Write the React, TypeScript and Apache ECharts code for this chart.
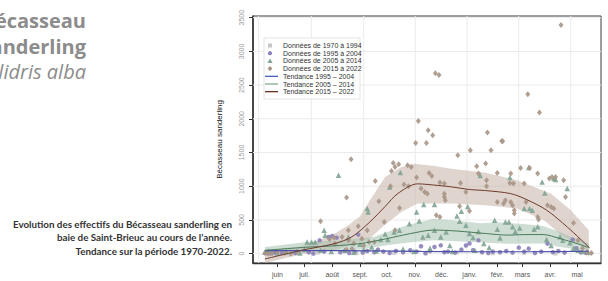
import React, { useEffect, useRef } from "react";
import * as echarts from "echarts";

const monthLabels = ["juin", "juil.", "août", "sept.", "oct.", "nov.", "déc.", "janv.", "févr.", "mars", "avr.", "mai"];
const monthDays = [0, 30, 61, 92, 122, 153, 183, 214, 245, 273, 304, 334];
const yTicks = [0, 500, 1000, 1500, 2000, 2500, 3000, 3500];
const xGrid = [-21, 37.7, 96.1, 153.6, 211.3, 268.9, 326.9];
const X_MIN = -27.3;
const X_MAX = 360.6;
const Y_MIN = -139;
const Y_MAX = 3525;

const data1970 = [[-13, 5], [-5, 10], [12, 0], [45, 15], [88, 5], [130, 10], [165, 0], [200, 20], [240, 5], [275, 10], [310, 0], [348, 5]];

const data1995 = [[-12, 10], [-8, 5], [-3, 15], [5, 8], [20, 10], [35, 20], [40, 0], [47, 197], [52, 30], [57, 246], [61, 261], [66, 237], [70, 20], [75, 40], [80, 10], [86, 30], [90, 282], [95, 15], [100, 40], [108, 20], [112, 60], [118, 30], [125, 10], [132, 40], [140, 20], [148, 50], [155, 30], [160, 110], [165, 10], [170, 40], [175, 98], [182, 123], [186, 20], [190, 30], [198, 15], [205, 60], [210, 120], [214, 150], [218, 50], [224, 197], [228, 20], [235, 10], [240, 30], [248, 20], [255, 40], [262, 15], [269, 89], [275, 30], [280, 74], [287, 10], [294, 30], [301, 148], [307, 20], [313, 40], [320, 15], [329, 208], [333, 80], [338, 20], [344, 10]];

const data2005 = [[-14, 20], [-10, 40], [0, 10], [10, 30], [25, 10], [30, 60], [33, 172], [38, 172], [42, 172], [48, 50], [52, 346], [53, 272], [60, 30], [68, 1162], [75, 50], [79, 246], [85, 20], [92, 138], [96, 60], [100, 668], [101, 617], [105, 100], [110, 40], [115, 210], [120, 290], [123, 208], [125, 988], [130, 321], [136, 346], [137, 1202], [140, 70], [147, 445], [152, 30], [155, 617], [158, 484], [162, 246], [163, 727], [168, 272], [170, 80], [175, 727], [175, 346], [182, 246], [188, 320], [192, 120], [195, 30], [200, 560], [203, 480], [205, 630], [210, 420], [212, 700], [214, 300], [218, 240], [220, 50], [224, 330], [226, 1160], [230, 150], [236, 90], [242, 494], [245, 360], [248, 230], [254, 469], [258, 469], [259, 1128], [262, 400], [265, 330], [270, 380], [275, 668], [280, 1276], [281, 668], [284, 643], [286, 360], [290, 400], [295, 1063], [298, 899], [300, 210], [305, 120], [308, 1113], [310, 1098], [315, 250], [318, 200], [323, 965], [326, 160], [330, 80], [335, 50], [340, 30], [346, 20]];

const data2015 = [[-14, 10], [-10, 0], [-6, 5], [0, 20], [8, 10], [15, 0], [22, 30], [48, 479], [58, 212], [63, 237], [64, 148], [72, 246], [77, 831], [77, 59], [79, 197], [79, 346], [82, 1400], [83, 74], [85, 150], [90, 405], [94, 222], [96, 120], [100, 346], [102, 172], [108, 172], [109, 1077], [113, 776], [119, 469], [126, 999], [127, 1226], [129, 1345], [131, 1285], [131, 346], [135, 1325], [136, 677], [141, 1024], [145, 1310], [146, 999], [149, 1285], [154, 1641], [155, 1128], [157, 1968], [160, 965], [164, 914], [166, 1641], [167, 890], [168, 1830], [169, 1196], [172, 1152], [173, 1755], [176, 2676], [177, 568], [180, 2651], [181, 543], [181, 1054], [186, 1039], [186, 890], [186, 840], [187, 791], [201, 1459], [203, 702], [204, 1048], [210, 914], [214, 632], [215, 1533], [222, 1296], [224, 1187], [232, 1336], [233, 1088], [233, 999], [234, 1796], [238, 1533], [245, 1196], [245, 766], [250, 1671], [251, 1667], [252, 742], [254, 791], [259, 1048], [260, 1187], [260, 766], [262, 717], [263, 1039], [264, 643], [264, 594], [271, 1270], [275, 1039], [277, 766], [279, 2364], [281, 1270], [290, 1187], [290, 543], [291, 505], [292, 2092], [301, 717], [303, 1113], [305, 692], [306, 1137], [308, 668], [310, 1137], [316, 3393], [319, 1088], [321, 840], [330, 454], [335, 200], [340, 80], [345, 20], [350, 10]];

const trend1995 = [[-14, 45], [40, 45], [100, 40], [160, 32], [220, 28], [280, 28], [347, 35]];
const trend2005 = [[-14, 49], [32, 95], [62, 115], [92, 148], [122, 223], [148, 297], [174, 350], [200, 335], [233, 297], [256, 275], [274, 282], [296, 283], [315, 223], [334, 148], [347, 90]];
const trend2015 = [[-14, -80], [27, 50], [64, 150], [83, 250], [103, 470], [120, 700], [134, 890], [156, 1035], [180, 1010], [194, 990], [215, 950], [232, 935], [260, 890], [278, 800], [300, 645], [323, 395], [348, 85]];

const band2005Upper = [[-14, 98], [32, 172], [70, 197], [107, 246], [133, 371], [151, 445], [174, 519], [196, 494], [226, 450], [248, 460], [274, 440], [296, 410], [315, 321], [327, 246], [347, 150]];
const band2005Lower = [[-14, 0], [32, 40], [92, 60], [122, 123], [151, 172], [174, 197], [218, 172], [256, 148], [296, 150], [315, 98], [330, 70], [347, 30]];
const band2015Upper = [[-14, 40], [27, 110], [46, 200], [64, 300], [79, 420], [92, 555], [102, 770], [120, 1137], [138, 1285], [153, 1335], [175, 1300], [194, 1260], [232, 1200], [267, 1088], [305, 890], [327, 643], [347, 346]];
const band2015Lower = [[-14, -139], [27, -10], [64, 50], [92, 180], [101, 197], [119, 420], [138, 617], [156, 742], [194, 742], [232, 717], [267, 668], [297, 494], [319, 246], [342, 98], [347, -60]];

const legendLabels = ["Données de 1970 à 1994", "Données de 1995 à 2004", "Données de 2005 à 2014", "Données de 2015 à 2022", "Tendance 1995 – 2004", "Tendance 2005 – 2014", "Tendance 2015 – 2022"];

const C_GRAY = "#c6c6c6";
const C_PURPLE = "#8b80b8";
const C_GREEN = "#7fa392";
const C_BROWN = "#a99586";

function ribbon(upper: number[][], lower: number[][], fill: string, opacity: number, z: number) {
  return {
    type: "custom",
    z,
    silent: true,
    data: [[0, 0]],
    renderItem: (_p: any, api: any) => {
      const pts = upper.map((p) => api.coord(p)).concat(lower.slice().reverse().map((p) => api.coord(p)));
      return { type: "polygon", shape: { points: pts }, style: { fill, opacity } };
    },
  };
}

export default function App() {
  const ref = useRef<HTMLDivElement>(null);
  useEffect(() => {
    if (!ref.current) return;
    const chart = echarts.init(ref.current, undefined, { renderer: "svg" });
    const axisFont = "Liberation Sans";
    const legendY0 = 45.5;
    const rowH = 7.7;
    const legendGraphics: any[] = [
      { type: "rect", shape: { x: 264, y: 38, width: 96, height: 61 }, style: { fill: "#fff", stroke: "#dcdcdc", lineWidth: 0.8 }, z: 10 },
    ];
    const sx = 270;
    legendGraphics.push({ type: "rect", shape: { x: sx - 2, y: legendY0 - 2, width: 4, height: 4 }, style: { fill: C_GRAY }, z: 11 });
    legendGraphics.push({ type: "circle", shape: { cx: sx, cy: legendY0 + rowH, r: 2.1 }, style: { fill: C_PURPLE }, z: 11 });
    const ty = legendY0 + rowH * 2;
    legendGraphics.push({ type: "polygon", shape: { points: [[sx, ty - 2.5], [sx + 2.6, ty + 2], [sx - 2.6, ty + 2]] }, style: { fill: C_GREEN }, z: 11 });
    const dy = legendY0 + rowH * 3;
    legendGraphics.push({ type: "polygon", shape: { points: [[sx, dy - 2.7], [sx + 2.4, dy], [sx, dy + 2.7], [sx - 2.4, dy]] }, style: { fill: C_BROWN }, z: 11 });
    const lineCols = ["#3552b5", "#78a588", "#5a1f14"];
    lineCols.forEach((c, i) => {
      const y = legendY0 + rowH * (4 + i);
      legendGraphics.push({ type: "line", shape: { x1: 265, y1: y, x2: 278, y2: y }, style: { stroke: c, lineWidth: 1.2 }, z: 11 });
    });
    legendLabels.forEach((t, i) => {
      legendGraphics.push({
        type: "text", x: 283, y: legendY0 + rowH * i, z: 11,
        style: { text: t, fontFamily: axisFont, fontSize: 7, fill: "#333", textAlign: "left", textVerticalAlign: "middle" },
      });
    });

    const titleStyle = { fontFamily: "Open Sans", fontWeight: "bold", fontSize: 20, fill: "#8c8c8c", textAlign: "right", textVerticalAlign: "middle" };
    const capStyle = { fontFamily: "Lato", fontWeight: "bold", fontSize: 9.8, fill: "#333", textAlign: "right", textVerticalAlign: "middle" };

    const option: any = {
      animation: false,
      backgroundColor: "#fff",
      grid: { left: 253, top: 16, right: 7, bottom: 18, show: true, borderColor: "#3a3a3a", borderWidth: 1, backgroundColor: "#fff" },
      xAxis: {
        type: "value", min: X_MIN, max: X_MAX,
        splitLine: { show: false },
        axisLine: { show: true, onZero: false, lineStyle: { color: "#333", width: 1.3 } },
        axisTick: { show: true, length: 4, customValues: monthDays, lineStyle: { color: "#333" } },
        axisLabel: {
          customValues: monthDays, margin: 8, fontSize: 7, color: "#555", fontFamily: axisFont,
          formatter: (v: number) => { const i = monthDays.indexOf(Math.round(v)); return i >= 0 ? monthLabels[i] : ""; },
        },
      },
      yAxis: {
        type: "value", min: Y_MIN, max: Y_MAX,
        name: "Bécasseau sanderling", nameLocation: "middle", nameGap: 30,
        nameTextStyle: { fontSize: 8, color: "#111", fontFamily: axisFont },
        splitLine: { show: false },
        axisLine: { show: true, onZero: false, lineStyle: { color: "#333", width: 1.6 } },
        axisTick: { show: true, length: 4, customValues: yTicks, lineStyle: { color: "#333" } },
        axisLabel: {
          customValues: yTicks, rotate: 90, margin: 8, fontSize: 7, color: "#9a9a9a", fontFamily: axisFont,
          formatter: (v: number) => String(Math.round(v)),
        },
      },
      graphic: [
        { type: "text", x: 86, y: 20, style: { ...titleStyle, text: "Bécasseau" } },
        { type: "text", x: 86, y: 46, style: { ...titleStyle, text: "sanderling" } },
        { type: "text", x: 86, y: 71, style: { ...titleStyle, fontWeight: "normal", fontStyle: "italic", text: "Calidris alba" } },
        { type: "text", x: 232, y: 223.5, style: { ...capStyle, text: "Evolution des effectifs du Bécasseau sanderling en" } },
        { type: "text", x: 232, y: 237, style: { ...capStyle, text: "baie de Saint-Brieuc au cours de l’année." } },
        { type: "text", x: 232, y: 250.5, style: { ...capStyle, text: "Tendance sur la période 1970-2022." } },
        ...legendGraphics,
      ],
      series: [
        {
          type: "custom", z: 1, silent: true,
          data: xGrid.map((v) => [v, 0]),
          renderItem: (_p: any, api: any) => {
            const a = api.coord([api.value(0), Y_MIN]);
            const b = api.coord([api.value(0), Y_MAX]);
            return { type: "line", shape: { x1: a[0], y1: a[1], x2: b[0], y2: b[1] }, style: { stroke: "#ebebeb", lineWidth: 1 } };
          },
        },
        {
          type: "custom", z: 1, silent: true,
          data: yTicks.map((v) => [0, v]),
          renderItem: (_p: any, api: any) => {
            const a = api.coord([X_MIN, api.value(1)]);
            const b = api.coord([X_MAX, api.value(1)]);
            return { type: "line", shape: { x1: a[0], y1: a[1], x2: b[0], y2: b[1] }, style: { stroke: "#ebebeb", lineWidth: 1 } };
          },
        },
        ribbon(band2015Upper, band2015Lower, "#c9b9ad", 0.6, 2),
        ribbon(band2005Upper, band2005Lower, "#9fbdab", 0.5, 2),
        { name: "1970", type: "scatter", z: 4, data: data1970, symbol: "rect", symbolSize: 4, itemStyle: { color: C_GRAY } },
        { name: "1995", type: "scatter", z: 4, data: data1995, symbol: "circle", symbolSize: 4.5, itemStyle: { color: C_PURPLE, opacity: 0.9 } },
        { name: "2005", type: "scatter", z: 4, data: data2005, symbol: "triangle", symbolSize: 5.5, itemStyle: { color: C_GREEN, opacity: 0.9 } },
        { name: "2015", type: "scatter", z: 4, data: data2015, symbol: "diamond", symbolSize: [5, 6], itemStyle: { color: C_BROWN, opacity: 0.9 } },
        { type: "line", z: 5, data: trend1995, symbol: "none", smooth: 0.3, lineStyle: { color: "#4b4fa8", width: 1.2 } },
        { type: "line", z: 5, data: trend2005, symbol: "none", smooth: 0.3, lineStyle: { color: "#4a7a58", width: 1 } },
        { type: "line", z: 5, data: trend2015, symbol: "none", smooth: 0.3, lineStyle: { color: "#6e3b2c", width: 1 } },
      ],
    };
    chart.setOption(option);
    return () => chart.dispose();
  }, []);
  return <div ref={ref} style={{ position: "absolute", left: 0, top: 0, width: 608, height: 281 }} />;
}
